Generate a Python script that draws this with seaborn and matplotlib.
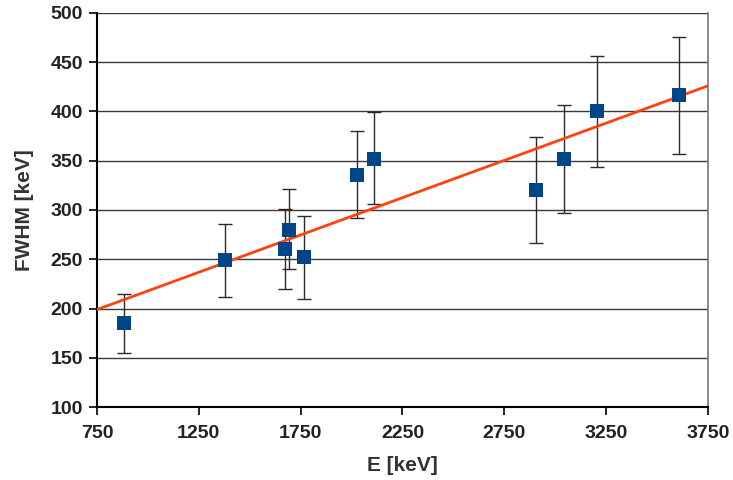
"""
FWHM vs energy with linear fit.
"""
import matplotlib
matplotlib.use("Agg")
import matplotlib.pyplot as plt
import numpy as np
import pandas as pd
import seaborn as sns

# measured peaks
energy = [884, 1378, 1673, 1693, 1766, 2025, 2111, 2905, 3043, 3203, 3607]
fwhm = [185, 249, 260, 280, 252, 336, 352, 320, 352, 400, 417]
err_low = [30, 37, 40, 40, 42, 44, 46, 53, 55, 56, 60]
err_high = [30, 37, 41, 41, 42, 44, 47, 54, 55, 56, 59]

# linear fit parameters
fit_slope = 0.0757
fit_intercept = 142.2

x_ticks = [750, 1250, 1750, 2250, 2750, 3250, 3750]
y_ticks = [100, 150, 200, 250, 300, 350, 400, 450, 500]

df = pd.DataFrame({"E": energy, "FWHM": fwhm})

sns.set_style("white")
plt.rcParams["font.family"] = ["Liberation Sans", "DejaVu Sans"]

fig = plt.figure(figsize=(7.33, 4.80), dpi=100)
ax = fig.add_axes([0.1323, 0.152, 0.8336, 0.821])

for y in y_ticks:
    ax.axhline(y, color="#3a3a3a", lw=1.0, zorder=1)

ax.errorbar(energy, fwhm, yerr=[err_low, err_high], fmt="none",
            ecolor="#2a2a2a", elinewidth=1.0, capsize=5, capthick=1.0, zorder=2)

fit_x = np.array([x_ticks[0], x_ticks[-1]])
fit_df = pd.DataFrame({"E": fit_x, "FWHM": fit_intercept + fit_slope * fit_x})
sns.lineplot(data=fit_df, x="E", y="FWHM", color="#ff420e", lw=2.0, ax=ax, zorder=3)

sns.scatterplot(data=df, x="E", y="FWHM", marker="s", s=95, color="#004586",
                edgecolor="#004586", linewidth=0, ax=ax, zorder=4)

ax.set_xlim(750, 3750)
ax.set_ylim(100, 500)
ax.set_xticks(x_ticks)
ax.set_yticks(y_ticks)
ax.tick_params(axis="both", which="major", direction="out", length=6, width=1.2,
               color="black", labelsize=14, labelcolor="#222222", bottom=True, left=True)
ax.tick_params(axis="x", pad=7)
ax.tick_params(axis="y", pad=4)
for lbl in ax.get_xticklabels() + ax.get_yticklabels():
    lbl.set_fontweight("bold")

ax.set_xlabel("E [keV]", fontsize=15, fontweight="bold", color="#333333", labelpad=10)
ax.set_ylabel("FWHM [keV]", fontsize=15, fontweight="bold", color="#333333", labelpad=12)

for side in ["left", "bottom"]:
    ax.spines[side].set_color("black")
    ax.spines[side].set_linewidth(1.5)
ax.spines["right"].set_color("#777777")
ax.spines["right"].set_linewidth(1.2)
ax.spines["top"].set_visible(False)

fig.savefig("out.png", dpi=100)
plt.close(fig)
